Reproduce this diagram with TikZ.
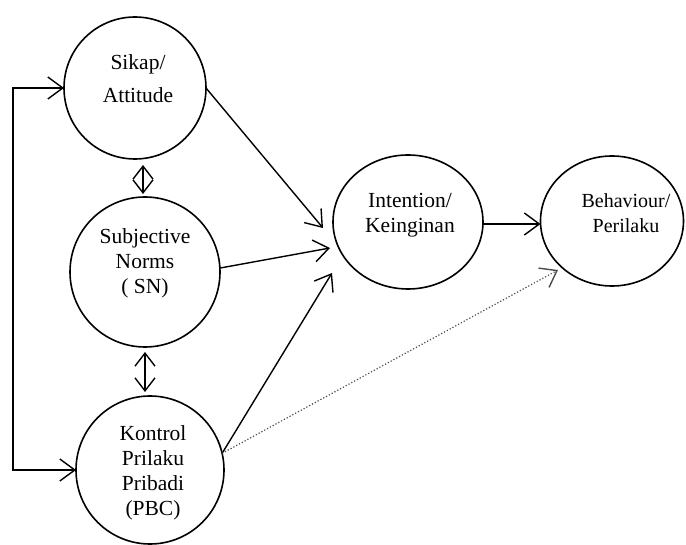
\documentclass[tikz,border=0pt]{standalone}
\usepackage{fontspec}
\setmainfont{Liberation Serif}
\usetikzlibrary{arrows.meta,shapes.geometric}
\begin{document}
\begin{tikzpicture}[x=1pt,y=-1pt,
  every node/.style={inner sep=0pt, outer sep=0pt},
  ring/.style={circle, draw, line width=1.6pt},
  oval/.style={ellipse, draw, line width=1.6pt},
  lbl/.style={align=center, font=\fontsize{21.5}{25}\selectfont},
  conn/.style={line width=1.4pt, -{Straight Barb[length=15pt,width=22pt,line width=1.4pt]}},
  both/.style={line width=1.4pt, {Straight Barb[length=13pt,width=20pt,line width=1.4pt]}-{Straight Barb[length=13pt,width=20pt,line width=1.4pt]}},
  brk/.style={line width=1.4pt, {Straight Barb[length=15pt,width=22pt,line width=1.4pt]}-{Straight Barb[length=15pt,width=22pt,line width=1.4pt]}},
  dots/.style={line width=1.2pt, dotted, black!70, -{Straight Barb[length=15pt,width=22pt,line width=1.4pt]}}
]
\useasboundingbox (0,0) rectangle (686,545);

% circles and ellipses
\node[ring, minimum size=142pt] (att) at (135,88) {};
\node[ring, minimum size=150pt] (sn) at (145,272) {};
\node[ring, minimum size=148pt] (pbc) at (150,470) {};
\node[oval, minimum width=150pt, minimum height=134pt] (int) at (408,222) {};
\node[oval, minimum width=143pt, minimum height=130pt] (beh) at (612,221) {};

% labels
\node[lbl, font=\fontsize{21.5}{33}\selectfont] (attT) at (138,79) {Sikap/\\Attitude};
\node[lbl] (snT) at (145,263) {Subjective\\Norms\\( SN)};
\node[lbl] (pbcT) at (153,473) {Kontrol\\Prilaku\\Pribadi\\(PBC)};
\node[lbl] (intT) at (410,215) {Intention/\\Keinginan};
\node[lbl, font=\fontsize{20}{25}\selectfont] (behT) at (626,213) {Behaviour/\\Perilaku};

% arrow tip coordinates
\coordinate (t1) at (323,228);
\coordinate (t2) at (330,248);
\coordinate (t3) at (332,273);
\coordinate (t4) at (558,270);
\coordinate (bl) at (13,0);
\coordinate (d1a) at (143,165);
\coordinate (d1b) at (143,194);
\coordinate (d2a) at (145,352);
\coordinate (d2b) at (145,392);

% left bracket
\draw[brk] (att.west) -- (att.west -| bl) -- (pbc.west -| bl) -- (pbc.west);

% double arrows between circles
\draw[both] (d1a) -- (d1b);
\draw[both] (d2a) -- (d2b);

% arrows to intention
\draw[conn] (att.east) -- (t1);
\draw[conn] (sn.3) -- (t2);
\draw[conn] (pbc.13) -- (t3);

% intention to behaviour
\draw[conn] ([yshift=-2pt]int.east) -- ([yshift=-2pt]int.east -| beh.west);

% dotted
\draw[dots] (pbc.13) -- (t4);
\end{tikzpicture}
\end{document}
